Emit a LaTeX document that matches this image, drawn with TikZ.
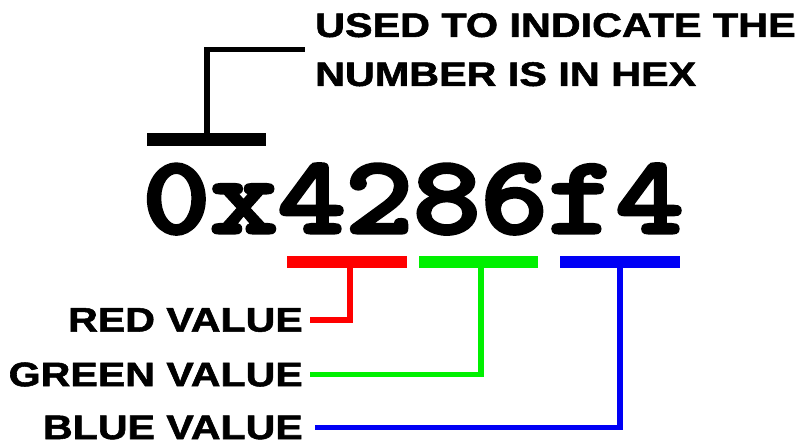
\documentclass[tikz,border=0pt]{standalone}
\usepackage{fontspec}
\usepackage{graphicx}
\setmainfont{Liberation Sans}[BoldFeatures={FakeBold=1.5}]
\newfontfamily\hexfont{lmmonolt10-bold.otf}[FakeBold=3]
\definecolor{rgbred}{RGB}{255,0,0}
\definecolor{rgbgreen}{RGB}{0,240,0}
\definecolor{rgbblue}{RGB}{0,0,245}
\tikzset{
  barbox/.style={rectangle, inner sep=0pt, minimum width=120pt, minimum height=12pt},
  lbl/.style={inner sep=0pt, font=\bfseries\fontsize{34}{34}\selectfont},
  conn/.style={line width=5.5pt},
}
\newcommand{\wide}[2]{\scalebox{#1}[1]{#2}}
\begin{document}
\begin{tikzpicture}[x=1pt, y=-1pt]
\useasboundingbox (0,0) rectangle (805,446);
\fill[white] (0,0) rectangle (805,446);

% top note
\node[inner sep=0pt, anchor=north west, align=left,
      font=\bfseries\fontsize{34}{49}\selectfont] (note) at (315,13)
  {\wide{1.215}{USED TO INDICATE THE}\\\wide{1.215}{NUMBER IS IN HEX}};

% hex value
\node[inner sep=0pt, anchor=base] (hex) at (413,233)
  {\wide{1.16}{\hexfont\fontsize{111}{111}\selectfont 0x4286f4}};

% bars
\node[barbox, fill=black, minimum height=13pt, minimum width=119pt] (kbar) at (206.5,139.5) {};
\node[barbox, fill=rgbred] (rbar) at (347,261.5) {};
\node[barbox, fill=rgbgreen, minimum width=119pt] (gbar) at (478.5,261.5) {};
\node[barbox, fill=rgbblue] (bbar) at (620,261.5) {};

% labels
\node[lbl, anchor=east] (rlab) at (303,320) {\wide{1.21}{RED VALUE}};
\node[lbl, anchor=east] (glab) at (303,374.5) {\wide{1.21}{GREEN VALUE}};
\node[lbl, anchor=east] (blab) at (303,427.5) {\wide{1.21}{BLUE VALUE}};

% connectors
\draw[conn, black] ([xshift=0.5pt]kbar.north) |- ([xshift=-10pt]note.west);
\draw[conn, rgbred] ([xshift=3pt]rbar.south) |- ([xshift=7pt]rlab.east);
\draw[conn, rgbgreen] ([xshift=2.5pt]gbar.south) |- ([xshift=7pt]glab.east);
\draw[conn, rgbblue] (bbar.south) |- ([xshift=12pt]blab.east);
\end{tikzpicture}
\end{document}
